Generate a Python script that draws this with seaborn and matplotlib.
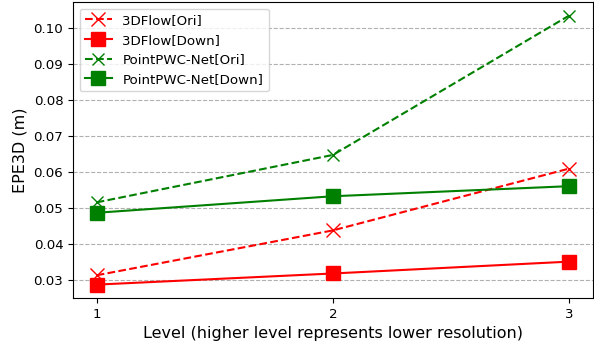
import matplotlib
matplotlib.use("Agg")
import matplotlib.pyplot as plt
import seaborn as sns
import pandas as pd

levels = [1, 2, 3]
flow_ori = [0.0312, 0.0437, 0.0609]
flow_down = [0.0286, 0.0317, 0.0350]
pwc_ori = [0.0515, 0.0647, 0.1035]
pwc_down = [0.0486, 0.0532, 0.0560]

series = [
    ("3DFlow[Ori]", flow_ori, "red", "--", "x", 10.5),
    ("3DFlow[Down]", flow_down, "red", "-", "s", 10),
    ("PointPWC-Net[Ori]", pwc_ori, "green", "--", "x", 8.5),
    ("PointPWC-Net[Down]", pwc_down, "green", "-", "s", 10),
]

plt.rcParams["xtick.labelsize"] = 9.6
plt.rcParams["ytick.labelsize"] = 9.6

fig = plt.figure(figsize=(5.94, 3.47), dpi=100)
ax = fig.add_axes([0.123, 0.141, 0.875, 0.853])

for name, vals, color, ls, mk, ms in series:
    df = pd.DataFrame({"level": levels, "epe": vals})
    sns.lineplot(data=df, x="level", y="epe", ax=ax, color=color,
                 linestyle=ls, marker=mk, markersize=ms, linewidth=1.5,
                 markeredgecolor=color, markeredgewidth=1.0, label=name)

ax.set_xticks(levels)
ax.set_xlabel("Level (higher level represents lower resolution)", fontsize=11.5)
ax.set_ylabel("EPE3D (m)", fontsize=11.5)
ax.grid(axis="y", linestyle="--", color="#b0b0b0", linewidth=0.8)
ax.set_axisbelow(True)
ax.legend(loc="upper left", fontsize=9.6)

fig.savefig("out.png", dpi=100)
